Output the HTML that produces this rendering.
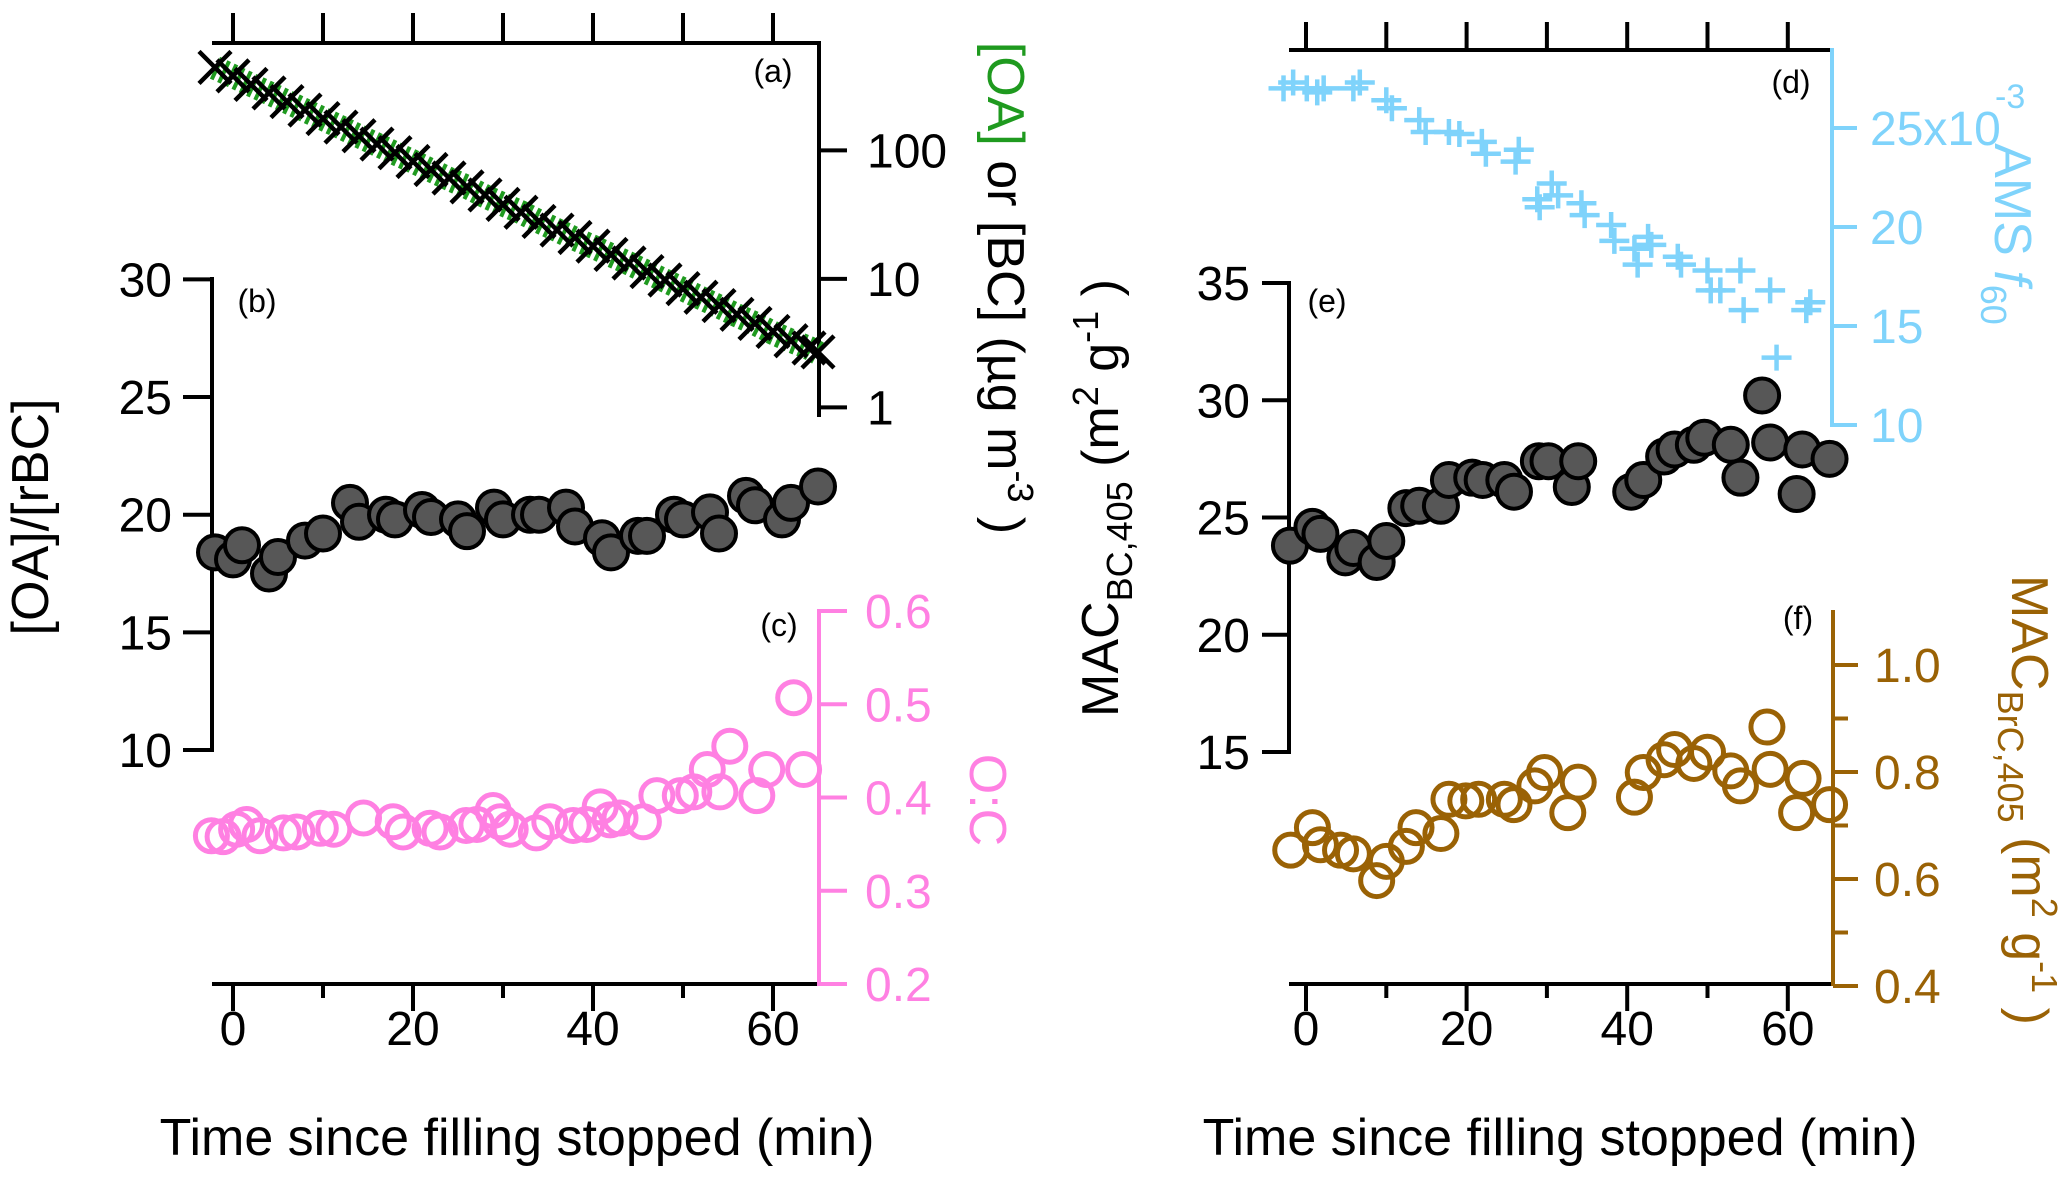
<!DOCTYPE html>
<html><head><meta charset="utf-8"><style>
html,body{margin:0;padding:0;background:#fff;}
svg{display:block;font-family:"Liberation Sans",Arial,sans-serif;}
</style></head><body>
<svg id="chart" width="2067" height="1179" viewBox="0 0 2067 1179" xmlns="http://www.w3.org/2000/svg">
<g id="g"></g>
</svg>
<script>
// ---- data: panel (a) ----
const timeA = [-2,0,2,4,6,8,10,12,14,16,18,20,22,24,26,28,30,32,34,36,38,40,42,44,46,48,50,52,54,56,58,60,62,64,65];
const oaA = [442,380,326,280,240,206,177,152,130,112,96,82,71,61,52,45,38,33,28,24,21,18,15.5,13.3,11.4,9.8,8.4,7.2,6.2,5.3,4.5,3.9,3.3,2.9,2.7];
const bcA = [440,378,324,279,239,205,176,151,129,111,95,82,70,60,52,44,38,33,28,24,20.5,17.8,15.3,13.2,11.3,9.7,8.3,7.1,6.1,5.2,4.5,3.8,3.3,2.9,2.65];
// ---- panel (b) ----
const timeB = [-2,0,1,4,5,8,10,13,14,17,18,21,22,25,26,29,30,33,34,37,38,41,42,45,46,49,50,53,54,57,58,61,62,65];
const ratioB = [18.4,18.1,18.7,17.5,18.2,18.9,19.2,20.5,19.7,20.0,19.8,20.2,19.9,19.8,19.3,20.3,19.8,20.0,20.0,20.3,19.5,19.0,18.4,19.1,19.1,20.0,19.8,20.1,19.2,20.8,20.4,19.8,20.5,21.2];
// ---- panel (c) ----
const timeC = [-2.4,-1.1,0.4,1.5,3.0,5.6,7.1,9.7,11.2,14.5,17.8,18.9,21.9,23,25.9,27.1,28.9,29.7,30.8,33.7,35.2,37.8,39.3,40.8,41.9,43,45.6,47.1,49.7,51.2,52.7,54.1,55.2,58.2,59.3,62.3,63.4];
const ocC = [0.359,0.358,0.366,0.371,0.359,0.362,0.363,0.367,0.366,0.378,0.374,0.363,0.367,0.363,0.370,0.371,0.386,0.374,0.366,0.362,0.374,0.370,0.371,0.390,0.376,0.378,0.374,0.402,0.402,0.406,0.430,0.406,0.455,0.402,0.430,0.507,0.430];
// ---- panel (d) ----
const timeD = [-2.8,-1.6,0.1,1.4,2.2,5.9,6.7,10.0,10.7,14.1,14.9,17.8,19.1,21.9,22.4,26.1,26.5,28.8,29.1,30.6,31.4,34.3,34.7,38.0,38.4,40.9,41.3,42.6,43.0,46.3,46.7,50.0,50.4,51.6,54.1,54.5,57.8,58.6,62.3,62.8];
const f60D = [27.0,27.3,27.0,26.8,27.0,27.0,27.3,26.4,26.0,25.4,24.8,24.8,24.7,24.3,23.7,23.3,23.9,21.4,21.0,22.2,21.6,21.2,20.6,20.1,19.3,18.9,18.1,19.5,19.1,18.5,18.1,17.8,16.8,16.8,17.8,15.8,16.8,13.4,15.8,16.2];
// ---- panel (e) ----
const timeE = [-2,0.8,1.8,4.9,5.9,8.8,10,12.5,14.1,16.8,17.8,20.7,22,24.7,25.9,29,30.2,33.1,33.9,40.5,42,44.6,45.9,48.3,49.6,52.9,54.1,56.8,57.8,61.1,61.8,65.2];
const macE = [23.8,24.6,24.3,23.3,23.7,23.1,24.0,25.4,25.5,25.5,26.6,26.7,26.6,26.6,26.1,27.4,27.4,26.3,27.4,26.1,26.6,27.6,27.9,28.1,28.4,28.1,26.7,30.2,28.2,26.0,27.9,27.5];
// ---- panel (f) ----
const timeF = [-1.9,0.8,1.8,4.3,5.9,8.8,10,12.5,13.7,16.8,17.8,19.9,21.5,24.7,25.9,28.5,29.7,32.6,33.9,40.9,42,44.6,45.9,48.3,50,52.9,54.1,57.4,57.8,61.1,61.9,65.2];
const macF = [0.654,0.696,0.664,0.654,0.647,0.597,0.633,0.661,0.696,0.685,0.749,0.746,0.749,0.749,0.739,0.774,0.799,0.724,0.781,0.753,0.799,0.823,0.842,0.816,0.837,0.802,0.774,0.884,0.805,0.724,0.788,0.739];
// ---- tick labels ----
const xTickLabels = [0,20,40,60];
const logTicks = [1,10,100];
const ratioTicks = [10,15,20,25,30];
const ocTicks = [0.2,0.3,0.4,0.5,0.6];
const f60Ticks = [10,15,20,25];
const macTicks = [15,20,25,30,35];
const brcTicks = [0.4,0.6,0.8,1.0];

const NS="http://www.w3.org/2000/svg";
const G=document.getElementById('g');
function el(tag,attrs,parent){const e=document.createElementNS(NS,tag);for(const k in attrs)e.setAttribute(k,attrs[k]);(parent||G).appendChild(e);return e;}
function line(x1,y1,x2,y2,c,w,name){const e=el('line',{x1,y1,x2,y2,stroke:c,'stroke-width':w});

return e;}
function text(x,y,s,size,c,anchor,name,rot){const e=el('text',{x,y,'font-size':size,fill:c,'text-anchor':anchor||'middle'});


if(rot)e.setAttribute('transform','rotate('+rot+' '+x+' '+y+')');e.innerHTML=s;return e;}

const GREEN='#1f9a1f',PINK='#ff80e2',BLUE='#7fd3fb',BROWN='#9a6205',GRAY='#575757';
const TF=48, TT=52, PL=32, R=17;

// ===== LEFT PANEL =====
const xL=t=>233+t*9.0;
const yA=v=>150.4-(Math.log10(v)-2)*128.5;
const yB=v=>279.4+(30-v)*23.53;
const yC=v=>611+(0.6-v)*932.5;
line(212,43,819,43,'#000',4,'top-axis-left');
for(let t=0;t<=60;t+=10) line(xL(t),43,xL(t),13,'#000',4,'top-tick');
line(212,984,819,984,'#000',4,'x-axis-left');
for(let t=0;t<=60;t+=10) line(xL(t),984,xL(t),t%20==0?1011:998,'#000',4,'x-tick');
xTickLabels.forEach(v=>text(xL(v),1045,v,TF,'#000','middle','x-tick-label'));
text(517,1155,'Time since filling stopped (min)',TT,'#000','middle','x-axis-title-left');
line(819,41,819,417,'#000',4,'y-axis-a');
logTicks.forEach(v=>{line(819,yA(v),847,yA(v),'#000',4,'y-tick-a');text(867,yA(v)+17,v,TF,'#000','start','y-tick-label-a');});
const ptsG=timeA.map((t,i)=>xL(t)+','+yA(bcA[i])).join(' ');
const gl=el('polyline',{points:ptsG,fill:'none',stroke:GREEN,'stroke-width':24,'stroke-dasharray':'4 4'});


timeA.forEach((t,i)=>{const x=xL(t),y=yA(oaA[i]),s=16;
const p=el('path',{d:`M${x-s},${y-s}L${x+s},${y+s}M${x-s},${y+s}L${x+s},${y-s}`,stroke:'#000','stroke-width':4.5,fill:'none'});

});
text(773,82,'(a)',PL,'#000','middle','panel-label-a');
const ta=text(988,288,'',TT,'#000','middle','y-axis-title-a',90);
ta.innerHTML='<tspan fill="'+GREEN+'">[OA]</tspan> or [BC] (µg m<tspan dy="-20" font-size="36">-3</tspan><tspan dy="20"> )</tspan>';
line(212,277,212,752,'#000',4,'y-axis-b');
ratioTicks.forEach(v=>{line(183,yB(v),212,yB(v),'#000',4,'y-tick-b');text(172,yB(v)+17,v,TF,'#000','end','y-tick-label-b');});
text(48,517,'[OA]/[rBC]',TT,'#000','middle','y-axis-title-b',-90);
text(257,312,'(b)',PL,'#000','middle','panel-label-b');
timeB.forEach((t,i)=>{const c=el('circle',{cx:xL(t),cy:yB(ratioB[i]),r:R,fill:GRAY,stroke:'#000','stroke-width':4});

});
line(819,609,819,986,PINK,4,'y-axis-c');
ocTicks.forEach(v=>{line(819,yC(v),847,yC(v),PINK,4,'y-tick-c');text(865,yC(v)+17,v.toFixed(1),TF,PINK,'start','y-tick-label-c');});
text(970,800,'O:C',TT,PINK,'middle','y-axis-title-c',90);
text(779,636,'(c)',PL,'#000','middle','panel-label-c');
timeC.forEach((t,i)=>{const c=el('circle',{cx:xL(t),cy:yC(ocC[i]),r:R-1,fill:'none',stroke:PINK,'stroke-width':5});

});

// ===== RIGHT PANEL =====
const xR=t=>1306+t*8.03;
const yD=v=>128+(25-v)*19.8;
const yE=v=>283+(35-v)*23.45;
const yF=v=>665+(1.0-v)*535;
line(1289,50,1833,50,'#000',4,'top-axis-right');
for(let t=0;t<=60;t+=10) line(xR(t),50,xR(t),22,'#000',4,'top-tick-right');
line(1289,984,1835,984,'#000',4,'x-axis-right');
for(let t=0;t<=60;t+=10) line(xR(t),984,xR(t),t%20==0?1011:998,'#000',4,'x-tick-right');
xTickLabels.forEach(v=>text(xR(v),1045,v,TF,'#000','middle','x-tick-label-right'));
text(1560,1155,'Time since filling stopped (min)',TT,'#000','middle','x-axis-title-right');
line(1832,48,1832,427,BLUE,4,'y-axis-d');
f60Ticks.forEach(v=>{line(1832,yD(v),1857,yD(v),BLUE,4,'y-tick-d');text(1870,yD(v)+17,v==25?'25x10':v,TF,BLUE,'start','y-tick-label-d');});
text(1995,108,'-3',34,BLUE,'start','y-tick-exponent-d');
const td=text(1995,234,'',TT,BLUE,'middle','y-axis-title-d',90);
td.innerHTML='AMS <tspan font-style="italic">f</tspan><tspan dy="14" font-size="36">60</tspan>';
text(1791,93,'(d)',PL,'#000','middle','panel-label-d');
timeD.forEach((t,i)=>{const x=xR(t),y=yD(f60D[i]);
const p=el('path',{d:`M${x-15},${y}L${x+15},${y}M${x},${y-13}L${x},${y+13}`,stroke:BLUE,'stroke-width':4.5,fill:'none'});

});
line(1289,281,1289,754,'#000',4,'y-axis-e');
macTicks.forEach(v=>{line(1262,yE(v),1289,yE(v),'#000',4,'y-tick-e');text(1250,yE(v)+17,v,TF,'#000','end','y-tick-label-e');});
const te=text(1118,498,'',TT,'#000','middle','y-axis-title-e',-90);
te.innerHTML='MAC<tspan dy="14" font-size="36">BC,405</tspan><tspan dy="-14"> (m</tspan><tspan dy="-20" font-size="36">2</tspan><tspan dy="20"> g</tspan><tspan dy="-20" font-size="36">-1</tspan><tspan dy="20"> )</tspan>';
text(1327,312,'(e)',PL,'#000','middle','panel-label-e');
timeE.forEach((t,i)=>{const c=el('circle',{cx:xR(t),cy:yE(macE[i]),r:R,fill:GRAY,stroke:'#000','stroke-width':4});

});
line(1833,610,1833,986,BROWN,4,'y-axis-f');
[0.4,0.5,0.6,0.7,0.8,0.9,1.0].forEach(v=>line(1833,yF(v),(Math.round(v*10)%2==0)?1858:1848,yF(v),BROWN,4,'y-tick-f'));
brcTicks.forEach(v=>text(1874,yF(v)+17,v.toFixed(1),TF,BROWN,'start','y-tick-label-f'));
const tf=text(2012,800,'',TT,BROWN,'middle','y-axis-title-f',90);
tf.innerHTML='MAC<tspan dy="14" font-size="36">BrC,405</tspan><tspan dy="-14"> (m</tspan><tspan dy="-20" font-size="36">2</tspan><tspan dy="20"> g</tspan><tspan dy="-20" font-size="36">-1</tspan><tspan dy="20"> )</tspan>';
text(1798,629,'(f)',PL,'#000','middle','panel-label-f');
timeF.forEach((t,i)=>{const c=el('circle',{cx:xR(t),cy:yF(macF[i]),r:R-1,fill:'none',stroke:BROWN,'stroke-width':5});

});
</script>
</body></html>
